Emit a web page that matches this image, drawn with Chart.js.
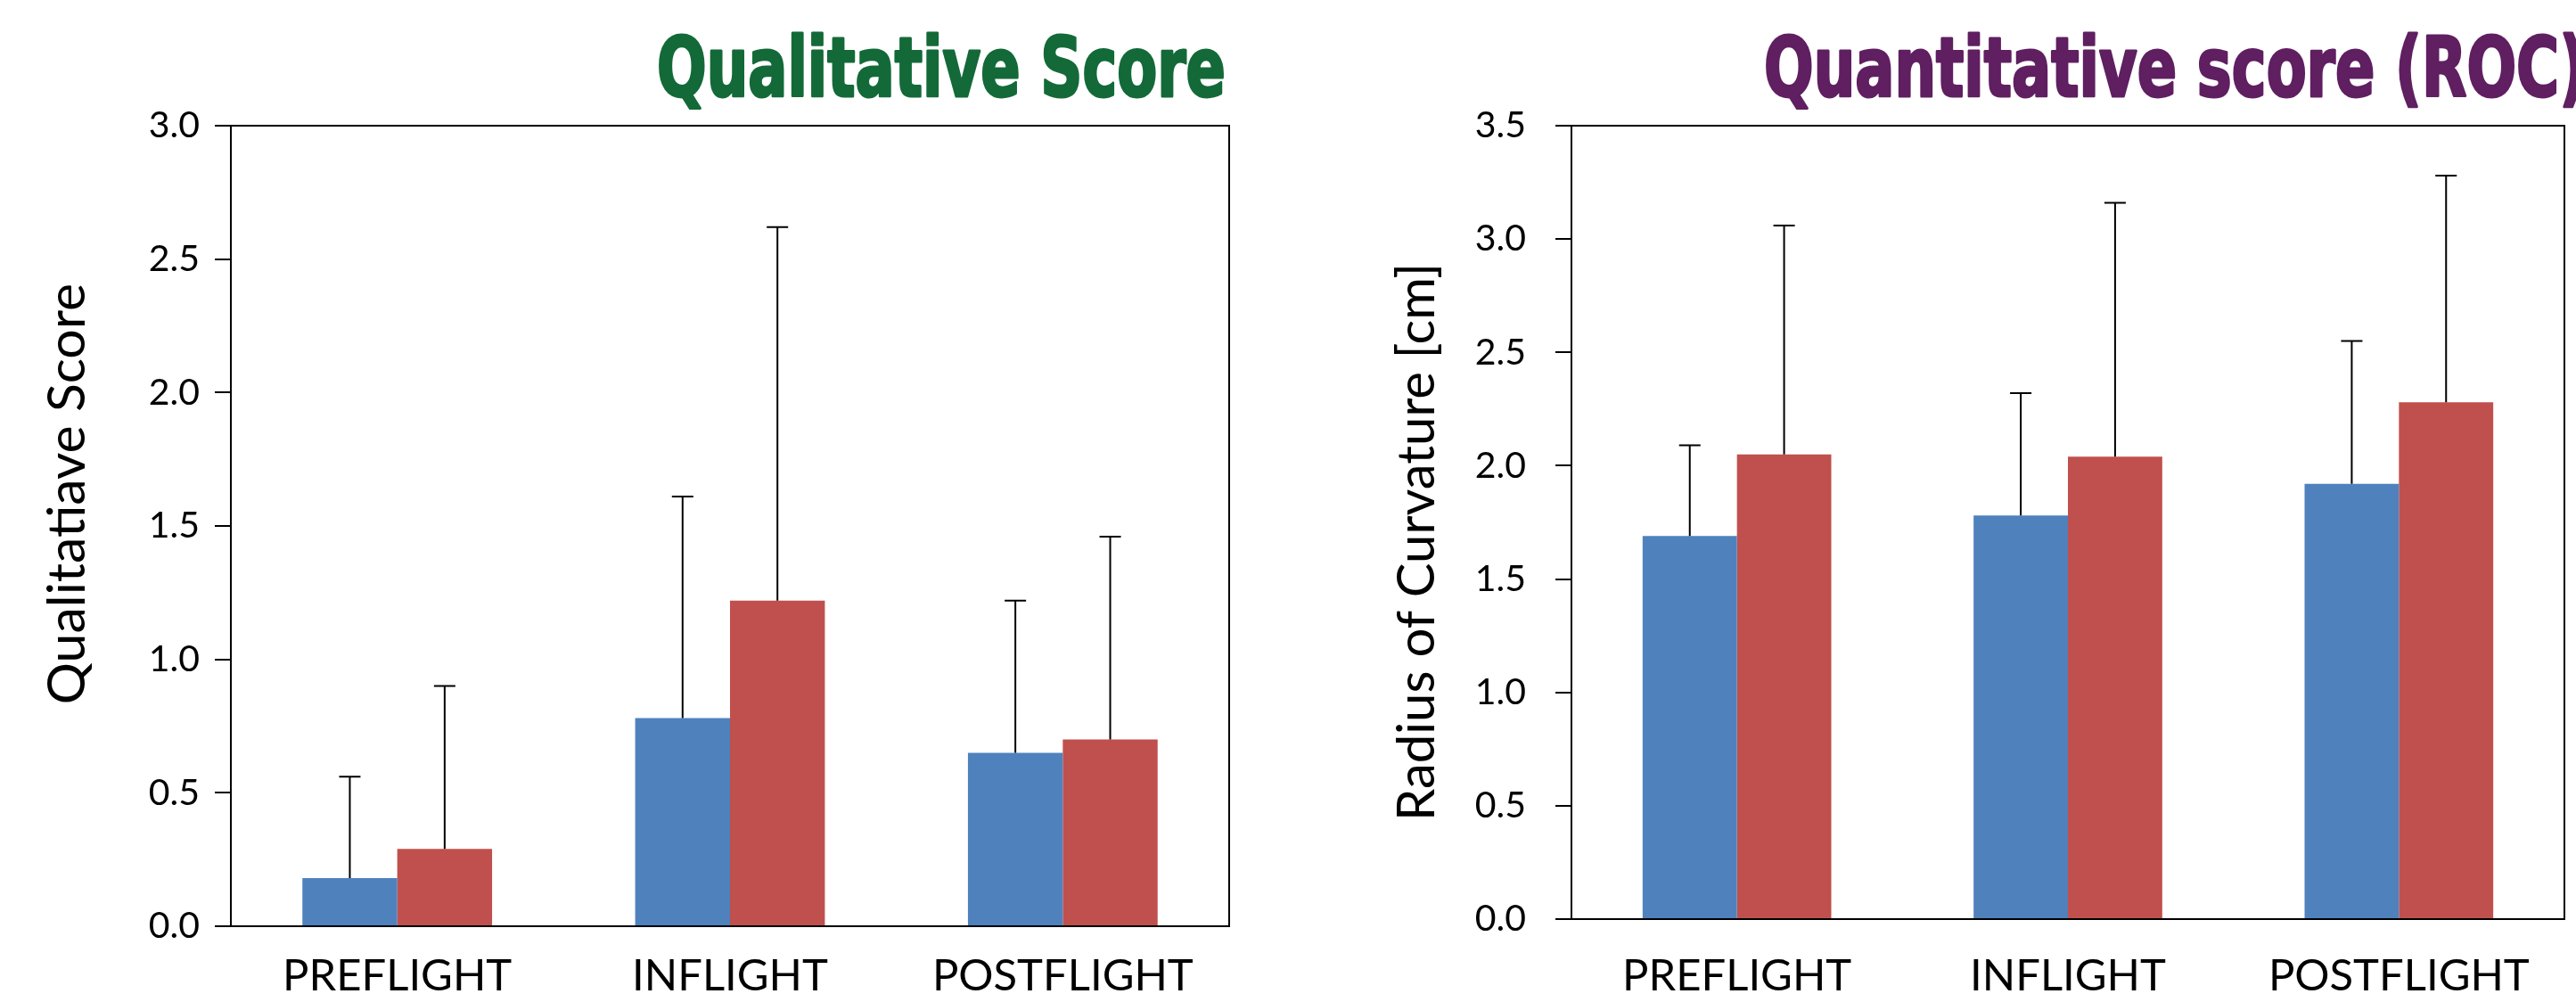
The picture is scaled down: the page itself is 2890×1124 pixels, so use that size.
<!DOCTYPE html>
<html><head><meta charset="utf-8">
<script src="https://cdn.jsdelivr.net/npm/chart.js@4"></script>
<style>
html,body{margin:0;padding:0;background:#fff;overflow:hidden}
#wrap{display:flex;width:2890px;height:1124px}
.panel{position:relative;width:1445px;height:1124px}
</style></head><body>
<div id="wrap">
  <div class="panel"><canvas id="qual"></canvas></div>
  <div class="panel"><canvas id="roc"></canvas></div>
</div>
<script>
const PHASES = ['PREFLIGHT','INFLIGHT','POSTFLIGHT'];

// qualitative score: mean and upper error (SD)
const QUAL_BLUE = [0.18, 0.78, 0.65];
const QUAL_BLUE_SD = [0.38, 0.83, 0.57];
const QUAL_RED = [0.29, 1.22, 0.70];
const QUAL_RED_SD = [0.61, 1.40, 0.76];
const QUAL_TICKS = [0, 0.5, 1.0, 1.5, 2.0, 2.5, 3.0];

// radius of curvature [cm]
const ROC_BLUE = [1.69, 1.78, 1.92];
const ROC_BLUE_SD = [0.40, 0.54, 0.63];
const ROC_RED = [2.05, 2.04, 2.28];
const ROC_RED_SD = [1.01, 1.12, 1.00];
const ROC_TICKS = [0, 0.5, 1.0, 1.5, 2.0, 2.5, 3.0, 3.5];

const BLUE='#4F81BD', RED='#C0504D', GREEN='#136A38', PURPLE='#5F1F61';
const FACE="Lato, 'Open Sans', sans-serif";
const HEAD="'Liberation Sans Narrow','DejaVu Sans Condensed',sans-serif";

Chart.defaults.font.family = FACE;
Chart.defaults.color = '#000';
Chart.defaults.animation = false;

/* ---- headline squeeze: fit "Qualitative Score" to its width in the picture ---- */
const HEAD_SIZE = 93;
const sx = (() => {
  const c = document.createElement('canvas').getContext('2d');
  c.font = `bold ${HEAD_SIZE}px ${HEAD}`;
  return 638 / c.measureText('Qualitative Score').width;
})();

const headline = {
  id:'headline',
  afterDraw(chart, args, o){
    const ctx = chart.ctx;
    ctx.save();
    ctx.font = `bold ${HEAD_SIZE}px ${HEAD}`;
    ctx.fillStyle = o.color;
    ctx.strokeStyle = o.color;
    ctx.lineWidth = 3; ctx.lineJoin = 'round';
    ctx.textBaseline = 'alphabetic';
    const w = ctx.measureText(o.text).width;
    ctx.translate(o.x, o.y);
    ctx.scale(sx, 1);
    const x0 = o.align==='end' ? -w : 0;
    ctx.fillText(o.text, x0, 0);
    ctx.strokeText(o.text, x0, 0);
    ctx.restore();

    // rotated y title, centred where the picture has it (not on the axis middle)
    const t = o.side;
    ctx.save();
    ctx.font = `${t.size}px ${FACE}`;
    ctx.fillStyle = '#000';
    ctx.textAlign = 'center'; ctx.textBaseline = 'middle';
    ctx.translate(t.x, t.y);
    ctx.rotate(-Math.PI/2);
    ctx.fillText(t.text, 0, 0);
    ctx.restore();
  }
};

/* ---- upper-only error bars + closed frame ---- */
const errBars = {
  id:'errBars',
  afterDatasetsDraw(chart){
    const ctx = chart.ctx, y = chart.scales.y;
    ctx.save();
    ctx.strokeStyle = '#000';
    ctx.lineWidth = 2;
    chart.data.datasets.forEach((ds,i) => {
      chart.getDatasetMeta(i).data.forEach((bar,j) => {
        const top = y.getPixelForValue(ds.data[j] + ds.sd[j]);
        ctx.beginPath();
        ctx.moveTo(bar.x, bar.y); ctx.lineTo(bar.x, top);
        ctx.moveTo(bar.x-12, top); ctx.lineTo(bar.x+12, top);
        ctx.stroke();
      });
    });
    const a = chart.chartArea;
    ctx.strokeRect(a.left, a.top, a.right-a.left, a.bottom-a.top);
    ctx.restore();
  }
};

function panel(id, cfg){
  return new Chart(document.getElementById(id), {
    type:'bar',
    data:{labels:PHASES, datasets:[
      {label:'Series 1', data:cfg.blue, sd:cfg.blueSd, backgroundColor:BLUE},
      {label:'Series 2', data:cfg.red, sd:cfg.redSd, backgroundColor:RED}
    ]},
    options:{
      responsive:true, maintainAspectRatio:false,
      categoryPercentage:0.57, barPercentage:1.0,
      layout:{padding:{top:141, right:cfg.padRight, left:0, bottom:0}},
      plugins:{
        legend:{display:false}, tooltip:{enabled:false},
        headline:cfg.head
      },
      scales:{
        x:{
          grid:{display:false},
          border:{display:true, color:'#000', width:2},
          ticks:{font:{size:49}, padding:cfg.xPad},
          afterFit:s => { s.height = cfg.xHeight; }
        },
        y:{
          min:0, max:cfg.ticks[cfg.ticks.length-1],
          afterBuildTicks:s => { s.ticks = cfg.ticks.map(v => ({value:v})); },
          grid:{drawOnChartArea:false, drawTicks:true, tickLength:18, color:'#000', lineWidth:2},
          border:{display:true, color:'#000', width:2},
          ticks:{font:{size:41}, padding:cfg.yPad, callback:v => v.toFixed(1)},
          afterFit:s => { s.width = cfg.yWidth; }
        }
      }
    },
    plugins:[errBars, headline]
  });
}

panel('qual', {
  blue:QUAL_BLUE, blueSd:QUAL_BLUE_SD, red:QUAL_RED, redSd:QUAL_RED_SD, ticks:QUAL_TICKS,
  yWidth:259, xHeight:85, padRight:66, xPad:19, yPad:17,
  head:{text:'Qualitative Score', color:GREEN, x:1375, y:108, align:'end',
        side:{text:'Qualitatiave Score', size:59, x:76, y:554}}
});
panel('roc', {
  blue:ROC_BLUE, blueSd:ROC_BLUE_SD, red:ROC_RED, redSd:ROC_RED_SD, ticks:ROC_TICKS,
  yWidth:318, xHeight:93, padRight:13, xPad:27, yPad:33,
  head:{text:'Quantitative score (ROC)', color:PURPLE, x:534, y:108, align:'start',
        side:{text:'Radius of Curvature [cm]', size:58, x:145, y:608}}
});
</script>
</body></html>
